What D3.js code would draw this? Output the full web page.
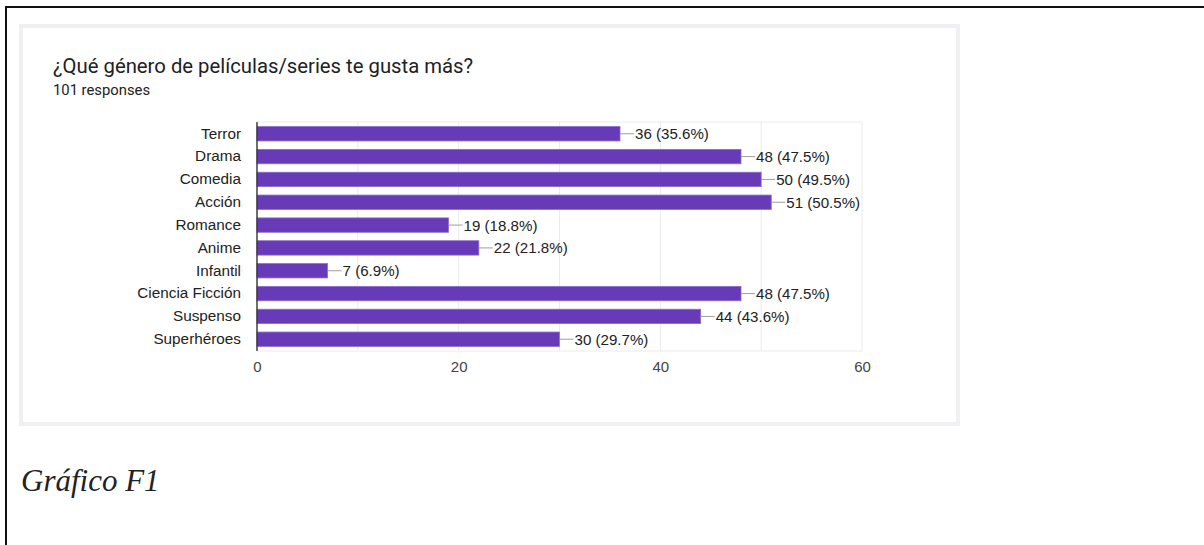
<!DOCTYPE html>
<html>
<head>
<meta charset="utf-8">
<script src="https://cdn.jsdelivr.net/npm/d3@7"></script>
<style>
  html, body { margin: 0; padding: 0; background: #fff; }
  svg { display: block; }
</style>
</head>
<body>
<svg id="page" width="1204" height="545"></svg>
<script>
// Survey answers: genre and number of respondents choosing it
const genres = ["Terror", "Drama", "Comedia", "Acción", "Romance", "Anime",
                "Infantil", "Ciencia Ficción", "Suspenso", "Superhéroes"];
const counts = [36, 48, 50, 51, 19, 22, 7, 48, 44, 30];
const percents = [35.6, 47.5, 49.5, 50.5, 18.8, 21.8, 6.9, 47.5, 43.6, 29.7];
const xTicks = [0, 20, 40, 60];
const gridValues = [10, 20, 30, 40, 50, 60];
const totalResponses = 101;

const svg = d3.select("#page");

// document frame lines (top and left)
svg.append("rect").attr("x", 5).attr("y", 6).attr("width", 1199).attr("height", 2).attr("fill", "#111");
svg.append("rect").attr("x", 5).attr("y", 6).attr("width", 2).attr("height", 539).attr("fill", "#111");

// card with light grey border
svg.append("rect")
  .attr("x", 21).attr("y", 26).attr("width", 937).attr("height", 398)
  .attr("fill", "#fff").attr("stroke", "#f0f0f2").attr("stroke-width", 4);

// heading
svg.append("text")
  .attr("x", 53).attr("y", 73)
  .attr("font-family", "Roboto, sans-serif").attr("font-size", 20.3)
  .attr("fill", "#202124")
  .text("¿Qué género de películas/series te gusta más?");
svg.append("text")
  .attr("x", 53).attr("y", 95)
  .attr("font-family", "Roboto, sans-serif").attr("font-size", 14.8)
  .attr("fill", "#202124")
  .text(totalResponses + " responses");

// scales
const x = d3.scaleLinear().domain([0, 60]).range([257, 862]);
const y = d3.scaleBand().domain(genres).range([122, 351])
  .paddingInner(0.37).paddingOuter(0.2);

const plot = svg.append("g").attr("font-family", "'Liberation Sans', Arial, sans-serif");

// vertical gridlines
plot.append("g").selectAll("line").data(gridValues).join("line")
  .attr("x1", d => x(d)).attr("x2", d => x(d))
  .attr("y1", 122).attr("y2", 351)
  .attr("stroke", "#ebebeb").attr("stroke-width", 1);
// top and bottom edges of the plot area
plot.append("g").selectAll("line").data([122, 351]).join("line")
  .attr("x1", x(0)).attr("x2", x(60))
  .attr("y1", d => d).attr("y2", d => d)
  .attr("stroke", "#ebebeb").attr("stroke-width", 1);

// bars
plot.append("g").selectAll("rect").data(genres).join("rect")
  .attr("x", x(0))
  .attr("y", d => y(d))
  .attr("width", (d, i) => x(counts[i]) - x(0))
  .attr("height", y.bandwidth())
  .attr("fill", "#673ab7")
  .attr("stroke", "#8e6bd0").attr("stroke-width", 0.8);

// leader lines and value labels
const lab = plot.append("g").selectAll("g").data(genres).join("g")
  .attr("transform", (d, i) => `translate(${x(counts[i])},${y(d) + y.bandwidth() / 2})`);
lab.append("line").attr("x1", 0).attr("x2", 14).attr("y1", 0).attr("y2", 0)
  .attr("stroke", "#9e9e9e").attr("stroke-width", 1);
lab.append("text").attr("x", 15).attr("dy", "0.36em")
  .attr("font-size", 15.1).attr("fill", "#222")
  .text((d, i) => `${counts[i]} (${percents[i].toFixed(1)}%)`);

// category axis
const yAxis = plot.append("g").attr("transform", `translate(${x(0)},0)`)
  .call(d3.axisLeft(y).tickSize(0).tickPadding(16));
yAxis.select(".domain").remove();
yAxis.selectAll("text").attr("font-size", 15.3).attr("fill", "#222")
  .attr("font-family", "'Liberation Sans', Arial, sans-serif");
plot.append("line").attr("x1", x(0)).attr("x2", x(0)).attr("y1", 122).attr("y2", 351)
  .attr("stroke", "#333").attr("stroke-width", 1.4);

// value axis
const xAxis = plot.append("g").attr("transform", "translate(0,351)")
  .call(d3.axisBottom(x).tickValues(xTicks).tickSize(0).tickPadding(10));
xAxis.select(".domain").remove();
xAxis.selectAll("text").attr("font-size", 15).attr("fill", "#444")
  .attr("font-family", "'Liberation Sans', Arial, sans-serif");

// caption
svg.append("text")
  .attr("x", 21).attr("y", 491)
  .attr("font-family", "'Liberation Serif', 'Times New Roman', serif")
  .attr("font-style", "italic").attr("font-size", 31)
  .attr("fill", "#222")
  .text("Gráfico F1");
</script>
</body>
</html>
